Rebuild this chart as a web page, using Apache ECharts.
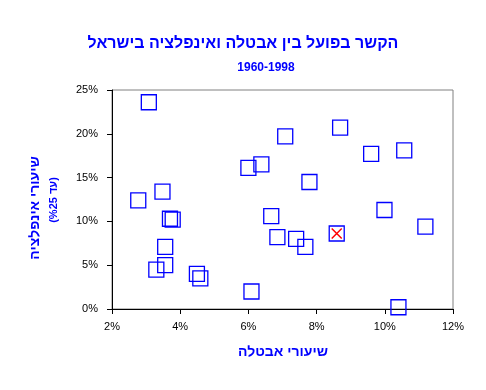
<!DOCTYPE html>
<html>
<head>
<meta charset="utf-8">
<script src="https://cdn.jsdelivr.net/npm/echarts@6/dist/echarts.min.js"></script>
<style>html,body{margin:0;padding:0;background:#fff;}#c{width:486px;height:390px;}</style>
</head>
<body>
<div id="c"></div>
<script>
const titleText = 'הקשר בפועל בין אבטלה ואינפלציה בישראל';
const subtitleText = '1960-1998';
const xAxisTitle = 'שיעורי אבטלה';
const yAxisTitle = 'שיעורי אינפלציה';
const yAxisTitle2 = '(%25 עד)';
const xTicks = [2, 4, 6, 8, 10, 12];
const yTicks = [0, 5, 10, 15, 20, 25];
// Yearly observations: unemployment rate (%) and inflation rate (%)
const unemployment = [3.08, 7.08, 6.00, 6.38, 2.77, 3.48, 3.70, 3.78, 6.67, 3.56, 6.85, 3.56, 3.30, 4.49, 4.59, 6.09, 7.40, 7.67, 8.69, 9.60, 10.57, 7.79, 9.99, 11.19, 10.40];
const inflation    = [23.6, 19.7, 16.1, 16.5, 12.4, 13.4, 10.3, 10.2, 10.6, 7.1, 8.2, 5.0, 4.5, 4.0, 3.5, 2.0, 8.0, 7.1, 20.7, 17.7, 18.1, 14.5, 11.3, 9.4, 0.2];
// Highlighted (marked with X) observation
const highlightUnemployment = [8.59];
const highlightInflation = [8.62];

const font = '"Liberation Sans", Arial, "DejaVu Sans", sans-serif';
const blue = '#0000ff';

const pts = unemployment.map((u, i) => [u, inflation[i]]);
const hpts = highlightUnemployment.map((u, i) => [u, highlightInflation[i]]);

const chart = echarts.init(document.getElementById('c'), null, {renderer: 'canvas'});
chart.setOption({
  animation: false,
  backgroundColor: '#fff',
  grid: {left: 112, right: 33, top: 90, bottom: 81, show: true, borderColor: '#808080', borderWidth: 1, backgroundColor: '#fff'},
  xAxis: {
    type: 'value', min: xTicks[0], max: xTicks[xTicks.length - 1], interval: 2,
    axisLine: {show: true, onZero: false, lineStyle: {color: '#000', width: 1}},
    axisTick: {show: true, length: 5, lineStyle: {color: '#000'}},
    axisLabel: {formatter: '{value}%', color: '#000', fontSize: 11, fontFamily: font, margin: 12},
    splitLine: {show: false}
  },
  yAxis: {
    type: 'value', min: yTicks[0], max: yTicks[yTicks.length - 1], interval: 5,
    axisLine: {show: true, onZero: false, lineStyle: {color: '#000', width: 1}},
    axisTick: {show: true, length: 5, lineStyle: {color: '#000'}},
    axisLabel: {formatter: '{value}%', color: '#000', fontSize: 11, fontFamily: font, margin: 14},
    splitLine: {show: false}
  },
  series: [
    {
      type: 'scatter', data: pts, symbol: 'rect', symbolSize: 15,
      itemStyle: {color: 'transparent', borderColor: blue, borderWidth: 1.3, opacity: 1},
      clip: false
    },
    {
      type: 'scatter', data: hpts, symbol: 'rect', symbolSize: 15,
      itemStyle: {color: 'transparent', borderColor: blue, borderWidth: 1.3, opacity: 1},
      clip: false
    },
    {
      type: 'scatter', data: hpts, symbol: 'path://M0,0L10,10M10,0L0,10', symbolSize: 10,
      itemStyle: {color: 'transparent', borderColor: '#ff0000', borderWidth: 1.5, opacity: 1},
      clip: false
    }
  ],
  graphic: [
    {type: 'text', x: 243, y: 44, style: {text: titleText, font: 'bold 16px ' + font, fill: blue, align: 'center', verticalAlign: 'middle'}},
    {type: 'text', x: 266, y: 68, style: {text: subtitleText, font: 'bold 12px ' + font, fill: blue, align: 'center', verticalAlign: 'middle'}},
    {type: 'text', x: 283, y: 352, style: {text: xAxisTitle, font: 'bold 14px ' + font, fill: blue, align: 'center', verticalAlign: 'middle'}},
    {type: 'text', x: 35, y: 208, rotation: Math.PI / 2, style: {text: yAxisTitle, font: 'bold 14px ' + font, fill: blue, align: 'center', verticalAlign: 'middle'}},
    {type: 'text', x: 54, y: 200, rotation: Math.PI / 2, style: {text: yAxisTitle2, font: 'bold 11px ' + font, fill: blue, align: 'center', verticalAlign: 'middle'}}
  ]
});
</script>
</body>
</html>
